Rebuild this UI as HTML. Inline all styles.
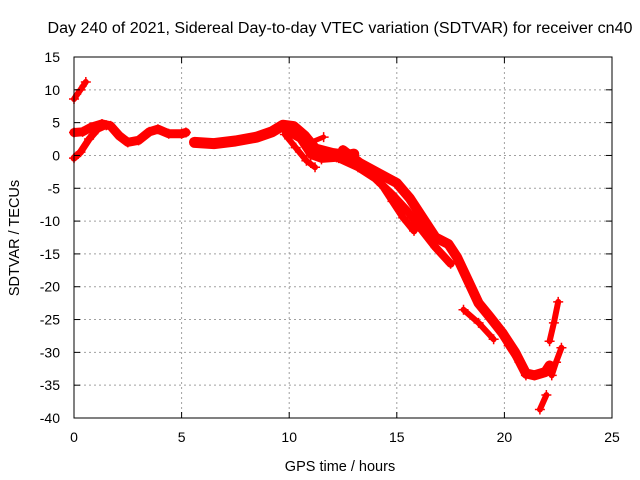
<!DOCTYPE html>
<html><head><meta charset="utf-8"><style>
body{margin:0;background:#fff}
svg{display:block;font-family:"Liberation Sans",sans-serif}
</style></head><body>
<svg id="chart" width="640" height="480">
<text x="340" y="33" font-size="15.5" text-anchor="middle" textLength="585" lengthAdjust="spacingAndGlyphs">Day 240 of 2021, Sidereal Day-to-day VTEC variation (SDTVAR) for receiver cn40</text>
<text x="340" y="471" font-size="14.5" text-anchor="middle">GPS time / hours</text>
<text transform="translate(19,238) rotate(-90)" font-size="14.5" text-anchor="middle">SDTVAR / TECUs</text>
<g id="grid"></g><g id="series"></g><g id="axes"></g>
</svg>
<script>
const xTicks=[0,5,10,15,20,25];
const yTicks=[15,10,5,0,-5,-10,-15,-20,-25,-30,-35,-40];
const track1=[[0,8.6],[0.3,10],[0.55,11.2]];
const track2=[[0,3.5],[0.4,3.6],[0.8,4.3],[1.3,4.8],[1.7,4.5],[2.1,3.0],[2.5,2.0],[3.0,2.3],[3.5,3.6],[3.9,4.0],[4.4,3.3],[5.0,3.3],[5.2,3.5]];
const track3=[[0,-0.4],[0.3,0.5],[0.7,2.5],[1.1,4.0],[1.5,4.6]];
const track4=[[5.6,2.0],[6.5,1.8],[7.5,2.2],[8.5,2.8],[9.2,3.6],[9.7,4.6],[10.2,4.4],[10.7,3.0],[11.2,1.0],[12,0.3],[12.7,0.0],[13.0,0.2]];
const track5=[[9.8,3.2],[10.3,1.2],[10.8,-0.8],[11.2,-1.8]];
const track6=[[9.7,4.0],[10.5,2.5],[11.0,0.0],[11.5,-0.6],[12.3,-0.4],[13.0,-1.0]];
const track6b=[[11.0,2.0],[11.6,2.8]];
const track7=[[12.5,0.8],[13.3,-1.2],[14.2,-2.8],[15.0,-4.2],[15.6,-6.5],[16.3,-10],[16.8,-12.5],[17.4,-13.5],[17.8,-15.5],[18.3,-19],[18.8,-22.5],[19.3,-24.5],[19.9,-27],[20.5,-30],[21.0,-33.2],[21.4,-33.5],[21.9,-33],[22.1,-32]];
const track8=[[13.2,-1.0],[13.8,-2.5],[14.3,-4.5],[14.8,-7.0],[15.3,-9.5],[15.8,-11.5]];
const track9=[[12.2,-0.3],[13.2,-1.8],[14.0,-3.5],[14.8,-6.0],[15.5,-8.5],[16.2,-11.5],[16.8,-14.0],[17.5,-16.5]];
const track10=[[18.1,-23.5],[18.8,-25.5],[19.5,-28]];
const track11=[[19.6,-25.6],[20.2,-29],[20.7,-31.5],[21.0,-33.5]];
const track12=[[22.1,-28.3],[22.3,-25.5],[22.5,-22.3]];
const track13=[[22.2,-33.5],[22.4,-31.5],[22.65,-29.3]];
const track14=[[21.65,-38.7],[21.95,-36.5]];
const tracks=[track1,track2,track3,track4,track5,track6,track6b,track7,track8,track9,track10,track11,track12,track13,track14];
const widths=[6,9,7,11,6,7,5,10,7,8,6,7,6,6,6];

const L=74,R=612,T=57,B=418,xMin=0,xMax=25,yMin=-40,yMax=15;
const X=h=>L+(h-xMin)/(xMax-xMin)*(R-L);
const Y=v=>B-(v-yMin)/(yMax-yMin)*(B-T);
const NS='http://www.w3.org/2000/svg';
function mk(tag,attrs,parent){const e=document.createElementNS(NS,tag);for(const k in attrs)e.setAttribute(k,attrs[k]);parent.appendChild(e);return e;}
const grid=document.getElementById('grid'),axes=document.getElementById('axes'),series=document.getElementById('series');
xTicks.forEach(t=>{const x=X(t);
 if(t>xMin&&t<xMax){const g=mk('line',{x1:x,x2:x,y1:T,y2:B,stroke:'#a0a0a0','stroke-dasharray':'2,3'},grid);
 
 }
 mk('line',{x1:x,x2:x,y1:B,y2:B-6,stroke:'#000'},axes);
 mk('line',{x1:x,x2:x,y1:T,y2:T+6,stroke:'#000'},axes);
 const tx=mk('text',{x:x,y:B+24,'font-size':14,'text-anchor':'middle'},axes);tx.textContent=t;
 
 });
yTicks.forEach(t=>{const y=Y(t);
 if(t>yMin&&t<yMax){const g=mk('line',{x1:L,x2:R,y1:y,y2:y,stroke:'#a0a0a0','stroke-dasharray':'2,3'},grid);
 
 }
 mk('line',{x1:L,x2:L+6,y1:y,y2:y,stroke:'#000'},axes);
 mk('line',{x1:R,x2:R-6,y1:y,y2:y,stroke:'#000'},axes);
 const tx=mk('text',{x:L-14,y:y+5,'font-size':14,'text-anchor':'end'},axes);tx.textContent=t;
 
 });
const frame=mk('rect',{x:L,y:T,width:R-L,height:B-T,fill:'none',stroke:'#000'},axes);


tracks.forEach((tr,i)=>{
 const pl=mk('polyline',{points:tr.map(p=>X(p[0])+','+Y(p[1])).join(' '),fill:'none',stroke:'#f00','stroke-width':widths[i],'stroke-linejoin':'round','stroke-linecap':'round'},series);
 
 
 tr.forEach(p=>{const x=X(p[0]),y=Y(p[1]);
  const m=mk('path',{d:`M${x-5},${y}H${x+5}M${x},${y-5}V${y+5}`,stroke:'#f00','stroke-width':1.5},series);
  
  });
});
</script>
</body></html>
